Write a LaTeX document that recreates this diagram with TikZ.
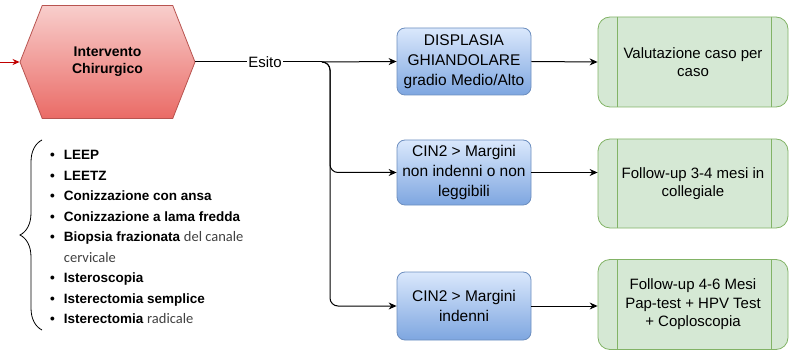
\documentclass[tikz,border=0pt]{standalone}
\usepackage{fontspec}
\setmainfont{Liberation Sans}
\newfontfamily\calibri{Carlito}
\usetikzlibrary{arrows.meta, shapes.symbols, positioning, decorations.pathreplacing}

\definecolor{hexborder}{HTML}{B85450}
\definecolor{hextop}{HTML}{F8CECC}
\definecolor{hexbot}{HTML}{EA6B66}
\definecolor{bluetop}{HTML}{DAE8FC}
\definecolor{bluebot}{HTML}{7EA6E0}
\definecolor{blueborder}{HTML}{6C8EBF}
\definecolor{greenfill}{HTML}{D5E8D4}
\definecolor{greenborder}{HTML}{82B366}
\definecolor{redarrow}{HTML}{C00000}
\definecolor{thin}{HTML}{404040}

\tikzset{
  arr/.style={-{Stealth[length=8pt,width=7pt]}, line width=1pt},
  hexbox/.style={signal, signal to=west and east, signal pointer angle=137,
    minimum width=175pt, minimum height=113pt, draw=hexborder, line width=0.8pt,
    top color=hextop, bottom color=hexbot, font=\fontsize{14}{17}\selectfont\bfseries, align=center},
  esitobox/.style={draw=blueborder, line width=0.8pt, rounded corners=8pt,
    top color=bluetop, bottom color=bluebot, minimum width=134pt,
    font=\fontsize{15.5}{20}\selectfont, align=center, inner sep=1pt},
  azione/.style={draw=greenborder, fill=greenfill, line width=0.8pt, rounded corners=12pt,
    minimum width=190pt, font=\fontsize{15}{18.5}\selectfont, align=center},
}
\newcommand{\thinpart}[1]{{\calibri\mdseries\color{thin}\fontsize{14.5}{19.5}\selectfont #1}}

\begin{document}
\begin{tikzpicture}[x=1pt, y=-1pt]
\useasboundingbox (0,0) rectangle (798,350);

% procedura chirurgica
\node[hexbox] (interv) at (107.5,62) {Intervento\\Chirurgico};
\coordinate (ingresso) at (0,62);
\draw[-{Stealth[length=7pt,width=6pt]}, redarrow, line width=0.9pt] (ingresso) -- (interv.west);

% esiti
\node[esitobox, minimum height=67pt] (displasia) at (464,61.5) {DISPLASIA\\GHIANDOLARE\\gradio Medio/Alto};
\node[esitobox, minimum height=65pt] (cinnon) at (464,172.5) {CIN2 > Margini\\non indenni o non\\leggibili};
\node[esitobox, minimum height=68pt] (cinind) at (464,306) {CIN2 > Margini\\indenni};

% azioni
\node[azione, minimum height=90pt] (valut) at (693,62) {Valutazione caso per\\caso};
\node[azione, minimum height=89pt] (follow1) at (693,183.5) {Follow-up 3-4 mesi in\\collegiale};
\node[azione, minimum height=90pt] (follow2) at (693,304.5) {Follow-up 4-6 Mesi\\Pap-test + HPV Test\\+ Coploscopia};
\foreach \g in {valut, follow1, follow2} {
  \draw[greenborder, line width=0.8pt] ([xshift=20pt]\g.north west) -- ([xshift=20pt]\g.south west);
  \draw[greenborder, line width=0.8pt] ([xshift=-17pt]\g.north east) -- ([xshift=-17pt]\g.south east);
}

% connettori
\coordinate (split) at (322,62);
\coordinate (drop) at (330,62);
\draw[line width=1pt] (interv.east) -- node[pos=0.55, fill=white, inner sep=1pt, font=\fontsize{15}{17}\selectfont] {Esito} (split);
\draw[arr] (split) -- (displasia.west);
\draw[arr, rounded corners=8pt] (split) -- (drop) |- (cinnon.west);
\draw[arr, rounded corners=8pt] (split) -- (drop) |- (cinind.west);
\draw[arr] (displasia.east) -- (valut.west);
\draw[arr] (cinnon.east) -- (cinnon.east -| follow1.west);
\draw[arr] (cinind.east) -- (cinind.east -| follow2.west);

% elenco interventi
\node[anchor=north west, inner sep=0pt] (elenco) at (50,145) {%
  \fontsize{13.5}{20.5}\selectfont\bfseries
  \begin{tabular}{@{}l@{\hspace{9pt}}l@{}}
  \textbullet & LEEP\\
  \textbullet & LEETZ\\
  \textbullet & Conizzazione con ansa\\
  \textbullet & Conizzazione a lama fredda\\
  \textbullet & Biopsia frazionata \thinpart{del canale}\\
   & \thinpart{cervicale}\\
  \textbullet & Isteroscopia\\
  \textbullet & Isterectomia semplice\\
  \textbullet & Isterectomia \thinpart{radicale}\\
  \end{tabular}};
\coordinate (graffasu) at (42,140);
\coordinate (graffagiu) at (42,330);
\draw[line width=0.8pt, decorate, decoration={brace, amplitude=22pt}] (graffagiu) -- (graffasu);
\end{tikzpicture}
\end{document}
